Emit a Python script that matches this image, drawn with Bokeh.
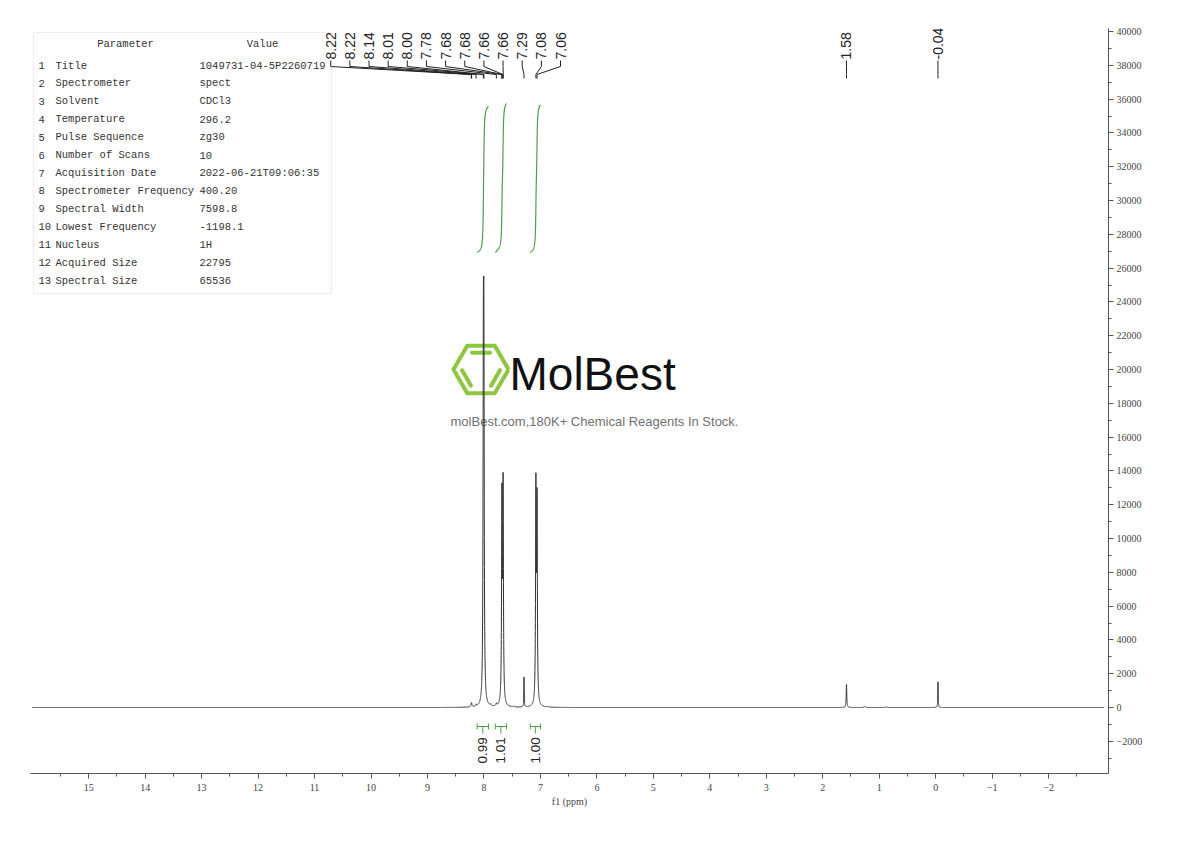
import numpy as np
from bokeh.plotting import figure
from bokeh.models import Range1d, FixedTicker, CustomJSTickFormatter, BoxAnnotation
from bokeh.core.properties import value
from bokeh.embed import file_html
from bokeh.resources import INLINE

# ---------------- data ----------------
peak_ppm    = [8.224, 8.218, 8.140, 8.010, 8.001, 7.880, 7.780, 7.682, 7.661, 7.470,
               7.290, 7.080, 7.060, 6.870, 1.580, 1.260, 0.880, -0.040]
peak_height = [150, 140, 110, 17900, 17900, 90, 140, 12000, 12700, 50,
               1780, 12640, 11620, 60, 1360, 60, 40, 1530]
peak_hwhm   = [0.008, 0.008, 0.008, 0.007, 0.007, 0.010, 0.008, 0.007, 0.007, 0.010,
               0.004, 0.007, 0.007, 0.010, 0.006, 0.015, 0.015, 0.004]

cluster_labels = ["8.22", "8.22", "8.14", "8.01", "8.00", "7.78", "7.68", "7.68",
                  "7.66", "7.66", "7.29", "7.08", "7.06"]
cluster_ppm    = [8.224, 8.218, 8.140, 8.010, 8.001, 7.780, 7.684, 7.680,
                  7.664, 7.658, 7.290, 7.080, 7.060]
single_labels  = ["1.58", "-0.04"]
single_ppm     = [1.580, -0.040]

int_from  = [8.12, 7.80, 7.18]
int_to    = [7.92, 7.60, 7.00]
int_value = [0.99, 1.01, 1.00]
int_text  = ["0.99", "1.01", "1.00"]

x_ticks = list(range(-2, 16))
x_minor = [t + 0.5 for t in range(-3, 16)]
y_ticks = list(range(-2000, 40001, 2000))
y_minor = list(range(-3000, 40001, 1000))

param_names = ["Title", "Spectrometer", "Solvent", "Temperature", "Pulse Sequence",
               "Number of Scans", "Acquisition Date", "Spectrometer Frequency",
               "Spectral Width", "Lowest Frequency", "Nucleus", "Acquired Size",
               "Spectral Size"]
param_values = ["1049731-04-5P2260719", "spect", "CDCl3", "296.2", "zg30", "10",
                "2022-06-21T09:06:35", "400.20", "7598.8", "-1198.1", "1H",
                "22795", "65536"]

# ---------------- layout ----------------
W, H = 1174, 825
FL, FT, FW, FH = 30, 28, 1078, 745          # frame in page pixels
X0, X1 = 16.03, -3.06
Y0, Y1 = -3905.0, 40178.0

def px2x(px):
    return X0 + (px - FL) / FW * (X1 - X0)

def py2y(py):
    return Y1 - (py - FT) / FH * (Y1 - Y0)

p = figure(width=W, height=H, x_range=Range1d(X0, X1), y_range=Range1d(Y0, Y1),
           y_axis_location="right", output_backend="svg", toolbar_location=None,
           min_border_left=FL, min_border_right=W - (FL + FW),
           min_border_top=FT, min_border_bottom=H - (FT + FH))
p.outline_line_color = None
p.grid.visible = False
p.background_fill_color = "white"
p.border_fill_color = "white"

minus_fmt = "return tick < 0 ? '\\u2212' + (-tick) : '' + tick;"
for ax in (p.xaxis[0], p.yaxis[0]):
    ax.axis_line_color = "#555555"
    ax.major_tick_line_color = "#555555"
    ax.minor_tick_line_color = "#555555"
    ax.major_tick_in = 0
    ax.minor_tick_in = 0
    ax.major_tick_out = 5
    ax.minor_tick_out = 3
    ax.major_label_text_font = "Liberation Serif"
    ax.major_label_text_font_size = "10px"
    ax.major_label_text_color = "#444444"
    ax.formatter = CustomJSTickFormatter(code=minus_fmt)
p.xaxis.ticker = FixedTicker(ticks=x_ticks, minor_ticks=x_minor)
p.yaxis.ticker = FixedTicker(ticks=y_ticks, minor_ticks=y_minor)
p.xaxis.major_label_standoff = 5
p.yaxis.major_label_standoff = 3
p.xaxis.axis_label = "f1 (ppm)"
p.xaxis.axis_label_text_font = "Liberation Serif"
p.xaxis.axis_label_text_font_size = "10px"
p.xaxis.axis_label_text_font_style = "normal"
p.xaxis.axis_label_text_color = "#444444"
p.xaxis.axis_label_standoff = 2

# ---------------- watermark logo ----------------
green = "#8dc63f"
cx, cy, R = 480.5, 369.0, 27.5
ang = np.deg2rad(np.arange(0, 361, 60))
hx = [px2x(cx + R * np.cos(a)) for a in ang]
hy = [py2y(cy - R * np.sin(a)) for a in ang]
p.line(hx, hy, line_color=green, line_width=4, line_join="round")
inset, blen = 7.0, 18.0
for a1, a2 in ((60, 120), (180, 240), (300, 360)):
    v1 = np.array([cx + R * np.cos(np.deg2rad(a1)), cy - R * np.sin(np.deg2rad(a1))])
    v2 = np.array([cx + R * np.cos(np.deg2rad(a2)), cy - R * np.sin(np.deg2rad(a2))])
    m = (v1 + v2) / 2
    d = (v2 - v1) / np.linalg.norm(v2 - v1)
    n = (np.array([cx, cy]) - m) / np.linalg.norm(np.array([cx, cy]) - m)
    s = m + n * inset - d * blen / 2
    e = m + n * inset + d * blen / 2
    p.line([px2x(s[0]), px2x(e[0])], [py2y(s[1]), py2y(e[1])],
           line_color=green, line_width=4, line_cap="round")
p.text([px2x(509)], [py2y(373)], text=["MolBest"], text_font=value("Liberation Sans"),
       text_font_size=value("46px"), text_color="#111111", text_align="left",
       text_baseline="middle")
p.text([px2x(594)], [py2y(421)], text=["molBest.com,180K+ Chemical Reagents In Stock."],
       text_font=value("Liberation Sans"), text_font_size=value("13px"),
       text_color="#707070", text_align="center", text_baseline="middle")

# ---------------- spectrum ----------------
xs = np.linspace(16.0, -2.98, 24001)
spec = np.zeros_like(xs)
for c, h, g in zip(peak_ppm, peak_height, peak_hwhm):
    spec += h * g * g / ((xs - c) ** 2 + g * g)
p.line(xs, spec, line_color="#333333", line_width=1)

# ---------------- integrals ----------------
ig = "#4aa04a"
yb, yt = py2y(252), py2y(103)
for a, b, v, t in zip(int_from, int_to, int_value, int_text):
    msk = (xs <= a) & (xs >= b)
    cs = np.cumsum(spec[msk])
    frac = cs / cs[-1] * (v / max(int_value))
    p.line(xs[msk], yb + frac * (yt - yb), line_color=ig, line_width=1.2)
    ybar = py2y(726)
    p.multi_line([[a, b], [a, a], [b, b], [(a + b) / 2, (a + b) / 2]],
                 [[ybar, ybar], [py2y(723), py2y(729)], [py2y(723), py2y(729)],
                  [ybar, py2y(733)]], line_color=ig, line_width=1)
    p.text([(a + b) / 2], [py2y(763)], text=[t], angle=np.pi / 2,
           text_font=value("Liberation Sans"), text_font_size=value("13.5px"),
           text_color="#222222", text_align="left", text_baseline="middle")

# ---------------- peak labels ----------------
n = len(cluster_labels)
lab_x = [px2x(560 - (n - 1 - i) * 19.15) for i in range(n)] + list(single_ppm)
lab_p = list(cluster_ppm) + list(single_ppm)
lab_t = list(cluster_labels) + list(single_labels)
lxs, lys = [], []
for lx, pp in zip(lab_x, lab_p):
    lxs.append([lx, lx, pp, pp])
    lys.append([py2y(60), py2y(66), py2y(74), py2y(78)])
p.multi_line(lxs, lys, line_color="#222222", line_width=1)
p.text(lab_x, [py2y(59)] * len(lab_x), text=lab_t, angle=np.pi / 2,
       text_font=value("Liberation Sans"), text_font_size=value("14px"),
       text_color="#222222", text_align="left", text_baseline="middle")

# ---------------- parameter table ----------------
p.add_layout(BoxAnnotation(left=px2x(33), right=px2x(331), top=py2y(32), bottom=py2y(293),
                           fill_alpha=0, line_color="#c8c8c8", line_width=1))
tf = value("Liberation Mono")
ts = value("10.5px")
tc = "#333333"
p.text([px2x(125), px2x(262)], [py2y(43)] * 2, text=["Parameter", "Value"],
       text_font=tf, text_font_size=ts, text_color=tc, text_align="center",
       text_baseline="middle")
rows_y = [py2y(65 + i * 17.92) for i in range(len(param_names))]
p.text([px2x(38)] * len(param_names), rows_y,
       text=[str(i + 1) for i in range(len(param_names))],
       text_font=tf, text_font_size=ts, text_color=tc, text_align="left", text_baseline="middle")
p.text([px2x(55)] * len(param_names), rows_y, text=param_names,
       text_font=tf, text_font_size=ts, text_color=tc, text_align="left", text_baseline="middle")
p.text([px2x(199)] * len(param_values), rows_y, text=param_values,
       text_font=tf, text_font_size=ts, text_color=tc, text_align="left", text_baseline="middle")

open("out.html", "w").write(file_html(p, INLINE))
